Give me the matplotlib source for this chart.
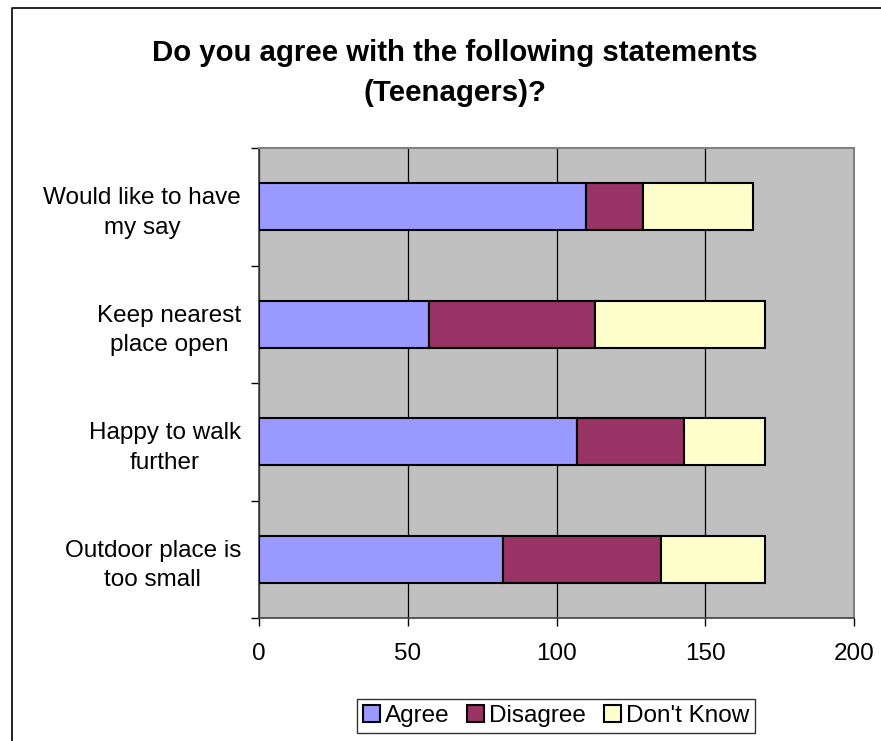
import numpy as np
import matplotlib.pyplot as plt
from matplotlib.lines import Line2D

plt.rcParams['font.family'] = ['Liberation Sans', 'DejaVu Sans']

# statements, bottom row first
statements = ['Outdoor place is\ntoo small',
              'Happy to walk\nfurther',
              'Keep nearest\nplace open',
              'Would like to have\nmy say']
agree = [82, 107, 57, 110]
disagree = [53, 36, 56, 19]
dont_know = [35, 27, 57, 37]

W, H = 881, 741
fig = plt.figure(figsize=(W / 100, H / 100), dpi=100)

# chart frame
fig.add_artist(Line2D([12 / W, 12 / W, 1.0], [0.0, 1 - 8 / H, 1 - 8 / H],
                      transform=fig.transFigure, color='black', lw=1.2))

ax = fig.add_axes([259 / W, 1 - 618 / H, (854 - 259) / W, (618 - 148) / H])
ax.set_facecolor('#C0C0C0')

y = np.arange(len(statements))
h = 0.4
ax.barh(y, agree, height=h, color='#9999FF', edgecolor='black', lw=1.5,
        label='Agree', zorder=3)
left2 = np.array(agree)
ax.barh(y, disagree, left=left2, height=h, color='#993366', edgecolor='black',
        lw=1.5, label='Disagree', zorder=3)
left3 = left2 + np.array(disagree)
ax.barh(y, dont_know, left=left3, height=h, color='#FFFFCC', edgecolor='black',
        lw=1.5, label="Don't Know", zorder=3)

ax.set_xlim(0, 200)
ax.set_ylim(-0.5, len(statements) - 0.5)
ax.set_xticks([0, 50, 100, 150, 200])
ax.xaxis.grid(True, color='black', lw=0.9, zorder=1)

ax.set_yticks(y)
ax.set_yticklabels(statements, multialignment='center', linespacing=1.45)
ax.set_yticks(np.arange(-0.5, len(statements)), minor=True)
ax.tick_params(axis='y', which='major', length=0, pad=13, labelsize=17.5)
ax.tick_params(axis='y', which='minor', length=6, width=1, direction='out')
ax.tick_params(axis='x', length=6, width=1, direction='out', pad=12,
               labelsize=17.5)

for side in ['top', 'right']:
    ax.spines[side].set_color('#808080')
    ax.spines[side].set_linewidth(1.5)
for side in ['left', 'bottom']:
    ax.spines[side].set_color('#404040')
    ax.spines[side].set_linewidth(1.2)

fig.text(455 / W, 1 - 73 / H,
         'Do you agree with the following statements\n(Teenagers)?',
         ha='center', va='center', fontsize=21.2, fontweight='bold',
         linespacing=1.55)

leg = fig.legend(loc='center', bbox_to_anchor=(556 / W, 1 - 716 / H), ncol=3,
                 fontsize=17.5, frameon=True, fancybox=False, edgecolor='black',
                 handlelength=0.7, handleheight=0.7, handletextpad=0.2,
                 columnspacing=0.75, borderpad=0.25, borderaxespad=0)
leg.get_frame().set_linewidth(1.0)

fig.savefig('out.png', dpi=100)
